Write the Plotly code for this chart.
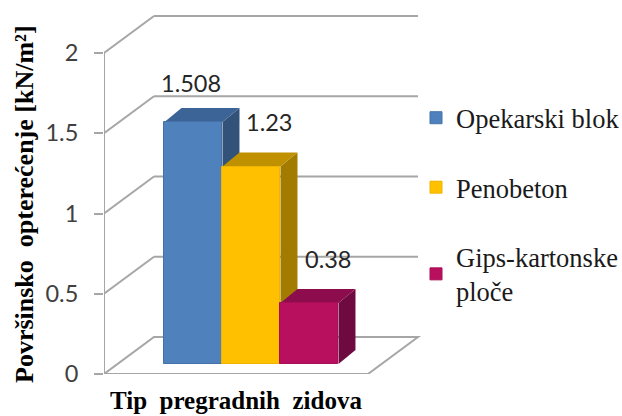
import plotly.graph_objects as go

series = ["Opekarski blok", "Penobeton", "Gips-kartonske<br>ploče"]
values = [1.508, 1.23, 0.38]
value_labels = ["1.508", "1.23", "0.38"]
tick_values = [0, 0.5, 1, 1.5, 2]
tick_labels = ["0", "0.5", "1", "1.5", "2"]
front_colors = ["#4f81bd", "#ffc000", "#b8105f"]
edge_colors = ["#4472a8", "#efb400", "#a80e56"]
top_colors = ["#3d6496", "#bf9000", "#8c0c4e"]
side_colors = ["#325279", "#a37b00", "#6e0a3f"]

GRID = "#a6a6a6"
W, H = 622, 416
ML, MR, MT, MB = 104, 192, 10, 42
X_RANGE = [-1.543, 4.078]
Y_RANGE = [0, 2.268]
WALL_DX, WALL_DY = 0.862, 0.2305
BAR_DX, BAR_DY = 0.293, 0.0872
FLOOR_LIFT = 0.0623
FLOOR_X = [-1.543, 3.009]
LABEL_SHIFT = [(-2, 39), (18, 45), (19, 44)]


def poly(points, fill, line="rgba(0,0,0,0)", width=0):
    path = "M" + "L".join(f"{x},{y}" for x, y in points) + "Z"
    return dict(type="path", path=path, xref="x", yref="y", layer="below",
                fillcolor=fill, line=dict(color=line, width=width))


def seg(x0, y0, x1, y1):
    return dict(type="line", x0=x0, y0=y0, x1=x1, y1=y1, xref="x", yref="y",
                layer="below", line=dict(color=GRID, width=2))


shapes = []
x0, x1 = FLOOR_X
shapes.append(poly([(x0, 0), (x1, 0), (x1 + WALL_DX, WALL_DY), (x0 + WALL_DX, WALL_DY)],
                   "white", GRID, 2))
for t in tick_values[1:]:
    shapes.append(seg(x0, t, x0 + WALL_DX, t + WALL_DY))
    shapes.append(seg(x0 + WALL_DX, t + WALL_DY, x1 + WALL_DX, t + WALL_DY))
shapes.append(seg(x0, 0, x0, tick_values[-1]))

for i, v in enumerate(values):
    l, r = i - 0.5, i + 0.5
    b, t = FLOOR_LIFT, FLOOR_LIFT + v
    shapes.append(poly([(r, b), (r + BAR_DX, b + BAR_DY), (r + BAR_DX, t + BAR_DY), (r, t)],
                       side_colors[i]))
    shapes.append(poly([(l, t), (r, t), (r + BAR_DX, t + BAR_DY), (l + BAR_DX, t + BAR_DY)],
                       top_colors[i]))

fig = go.Figure()
for i, (name, v) in enumerate(zip(series, values)):
    fig.add_trace(go.Bar(x=[i], y=[v], base=[FLOOR_LIFT], width=[1], name=name,
                         legendgroup=str(i),
                         marker=dict(color=front_colors[i],
                                     line=dict(width=1, color=edge_colors[i]))))

annotations = []
for i, (v, lab) in enumerate(zip(values, value_labels)):
    annotations.append(dict(x=i, y=FLOOR_LIFT + v, xref="x", yref="y", text=lab, showarrow=False,
                            xshift=LABEL_SHIFT[i][0], yshift=LABEL_SHIFT[i][1],
                            font=dict(family="Lato", size=23.5, color="#262626")))
annotations.append(dict(xref="paper", yref="paper", x=(236 - ML) / (W - ML - MR),
                        y=(H - MB - 400.5) / (H - MT - MB), text="<b>Tip  pregradnih  zidova</b>",
                        showarrow=False, xanchor="center", yanchor="middle",
                        font=dict(family="Liberation Serif", size=25, color="black")))
annotations.append(dict(xref="paper", yref="paper", x=(24 - ML) / (W - ML - MR),
                        y=(H - MB - 204) / (H - MT - MB), text="<b>Površinsko  opterećenje [kN/m²]</b>",
                        textangle=-90, showarrow=False, xanchor="center", yanchor="middle",
                        font=dict(family="Liberation Serif", size=26, color="black")))

fig.update_layout(
    width=W, height=H, autosize=False,
    margin=dict(l=ML, r=MR, t=MT, b=MB, autoexpand=False),
    paper_bgcolor="white", plot_bgcolor="rgba(0,0,0,0)",
    shapes=shapes, annotations=annotations, bargap=0,
    xaxis=dict(range=X_RANGE, showgrid=False, zeroline=False, showticklabels=False,
               ticks="", showline=False),
    yaxis=dict(range=Y_RANGE, tickmode="array", tickvals=tick_values, ticktext=tick_labels,
               showgrid=False, zeroline=False, showline=False, ticks="outside", ticklen=9,
               tickwidth=2, tickcolor=GRID, ticklabelstandoff=11,
               tickfont=dict(family="Lato", size=23.5, color="#404040")),
    showlegend=True,
    legend=dict(x=(416 - ML) / (W - ML - MR), xanchor="left",
                y=(H - MB - 94) / (H - MT - MB), yanchor="top",
                font=dict(family="Liberation Serif", size=26.5, color="#1a1a1a"),
                bgcolor="rgba(0,0,0,0)", tracegroupgap=32, itemwidth=30, traceorder="grouped"),
)
fig.write_html("out.html", config=dict(displayModeBar=False),
               post_script="document.body.style.margin='0';window.dispatchEvent(new Event('resize'));")
